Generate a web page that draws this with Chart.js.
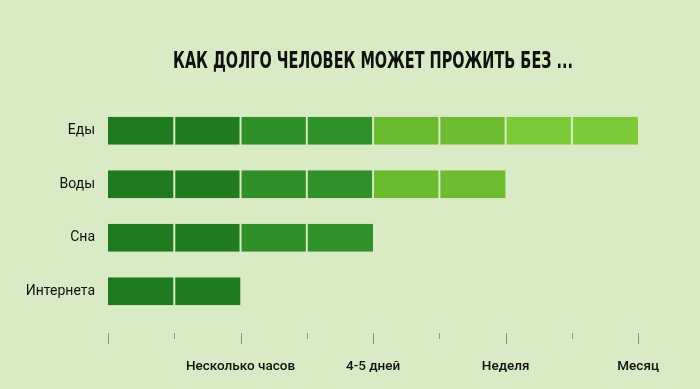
<!DOCTYPE html>
<html>
<head>
<meta charset="utf-8">
<script src="https://cdn.jsdelivr.net/npm/chart.js@4/dist/chart.umd.min.js"></script>
<style>
  html, body { margin: 0; padding: 0; background: #d9ebc5; }
  #wrap { width: 700px; height: 389px; }
</style>
</head>
<body>
<div id="wrap"><canvas id="chart" width="700" height="389"></canvas></div>
<script>
// Dades del gràfic
const categories = ['Еды', 'Воды', 'Сна', 'Интернета'];
const segmentCounts = [8, 6, 4, 2];          // nombre de blocs per fila
const tickLabels = ['', '', 'Несколько часов', '', '4-5 дней', '', 'Неделя', '', 'Месяц'];
const segmentColors = ['#1f7a1f', '#207b20', '#2f8f28', '#30902a', '#6aba2f', '#6dbb30', '#7cc937', '#7dca38'];
const chartTitle = 'КАК ДОЛГО ЧЕЛОВЕК МОЖЕТ ПРОЖИТЬ БЕЗ ...';

// Un dataset per cada bloc (apilats)
const datasets = segmentColors.map((color, k) => ({
    data: segmentCounts.map(n => (n > k ? 1 : null)),
    backgroundColor: color,
    borderColor: '#d4ecbc',
    borderSkipped: false,
    borderWidth: (ctx) => ({
        left: k > 0 ? 1 : 0,
        right: segmentCounts[ctx.dataIndex] - 1 > k ? 1 : 0,
        top: 0,
        bottom: 0
    }),
    barPercentage: 1,
    categoryPercentage: 0.52
}));

// Marques de l'eix X (llargues i curtes)
const tickMarks = {
    id: 'tickMarks',
    afterDraw(chart) {
        const { ctx, chartArea, scales } = chart;
        const x = scales.x;
        ctx.save();
        ctx.strokeStyle = '#8a9180';
        ctx.lineWidth = 1;
        for (let v = 0; v <= 8; v++) {
            const px = Math.round(x.getPixelForValue(v)) + 0.5;
            const top = chartArea.bottom + 15;
            const len = v % 2 === 0 ? 11 : 6;
            ctx.beginPath();
            ctx.moveTo(px, top);
            ctx.lineTo(px, top + len);
            ctx.stroke();
        }
        ctx.restore();
    }
};

// Títol estret (no hi ha fonts condensades, s'estreny horitzontalment)
const narrowTitle = {
    id: 'narrowTitle',
    afterDraw(chart) {
        const { ctx, chartArea } = chart;
        ctx.save();
        ctx.font = "bold 23px 'DejaVu Sans Condensed', 'DejaVu Sans', sans-serif";
        ctx.fillStyle = '#111';
        ctx.textAlign = 'center';
        ctx.textBaseline = 'middle';
        const w = ctx.measureText(chartTitle).width;
        const sx = 400 / w;
        const cx = (chartArea.left + chartArea.right) / 2;
        ctx.translate(cx, 62);
        ctx.scale(sx, 1);
        ctx.fillText(chartTitle, 0, 0);
        ctx.restore();
    }
};

new Chart(document.getElementById('chart'), {
    type: 'bar',
    data: { labels: categories, datasets },
    plugins: [tickMarks, narrowTitle],
    options: {
        indexAxis: 'y',
        responsive: false,
        animation: false,
        layout: { padding: { left: 0, right: 61, top: 104, bottom: 0 } },
        plugins: {
            legend: { display: false },
            tooltip: { enabled: false },
            title: { display: false }
        },
        scales: {
            x: {
                stacked: true,
                min: 0,
                max: 8,
                grid: { display: false, drawTicks: false },
                border: { display: false },
                afterFit: (scale) => { scale.height = 71; },
                ticks: {
                    stepSize: 1,
                    autoSkip: false,
                    maxRotation: 0,
                    padding: 41,
                    color: '#111',
                    font: { family: "Roboto, 'Noto Sans', sans-serif", size: 13.5, weight: '500' },
                    callback: (v) => tickLabels[v]
                }
            },
            y: {
                stacked: true,
                grid: { display: false, drawTicks: false },
                border: { display: false },
                afterFit: (scale) => { scale.width = 108; },
                ticks: {
                    padding: 13,
                    color: '#111',
                    font: { family: "Roboto, 'Noto Sans', sans-serif", size: 14 }
                }
            }
        }
    }
});
</script>
</body>
</html>
